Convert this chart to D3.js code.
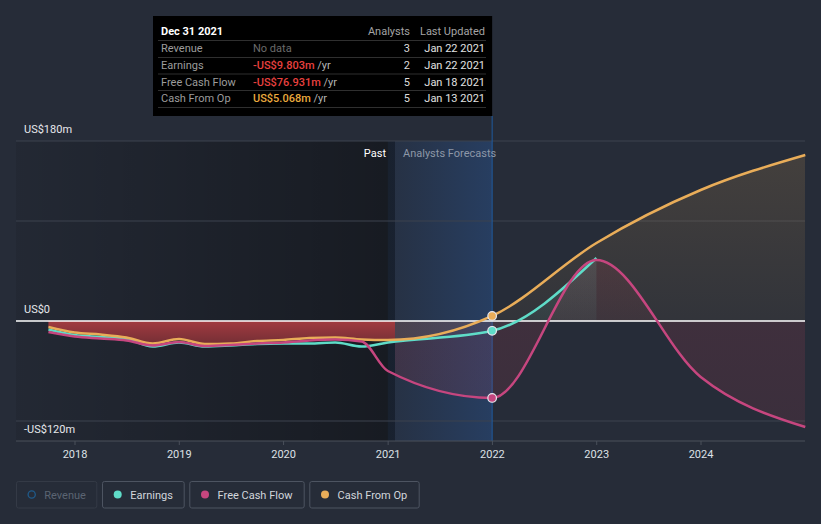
<!DOCTYPE html>
<html>
<head>
<meta charset="utf-8">
<script src="https://cdn.jsdelivr.net/npm/d3@7"></script>
<style>
  html, body { margin: 0; padding: 0; background: #262c38; }
  svg { display: block; font-family: Roboto, "Noto Sans", sans-serif; }
</style>
</head>
<body>
<script>
// ---------------- DATA ----------------
const pastDates = ["2017-09-30","2017-12-31","2018-03-31","2018-06-30","2018-09-30","2018-12-31",
  "2019-03-31","2019-06-30","2019-09-30","2019-12-31","2020-03-31","2020-06-30","2020-09-30","2020-12-31"];
const pastEarnings     = [-8.5, -14, -16, -18, -25.5, -21.5, -25.5, -24.5, -23, -22.5, -22.5, -21.5, -25.5, -21.5];
const pastFreeCashFlow = [-11, -15.5, -17.5, -19.5, -24.5, -21, -25, -24, -22.5, -21.5, -19.5, -18.5, -20.5, -50];
const pastCashFromOp   = [-6, -11.5, -13.5, -16.5, -22.5, -18, -23, -22.5, -20, -19, -17, -16.5, -18.5, -19];

const forecastDates = ["2021-12-31","2022-12-31","2023-12-31","2024-12-31"];
const earningsForecast     = [-9.803, 63];
const freeCashFlowForecast = [-76.931, 61, -56, -106];
const cashFromOpForecast   = [5.068, 78, 131, 166];

const tickYears = [2018, 2019, 2020, 2021, 2022, 2023, 2024];
const yLabels = [{v: 180, t: "US$180m"}, {v: 0, t: "US$0"}, {v: -120, t: "-US$120m"}];
const gridValues = [180, 100, -100];

const legendItems = ["Revenue", "Earnings", "Free Cash Flow", "Cash From Op"];

const tooltipTitle = "Dec 31 2021";
const tooltipRows = [
  {name: "Revenue",        value: "No data",     analysts: "3", updated: "Jan 22 2021"},
  {name: "Earnings",       value: "-US$9.803m",  analysts: "2", updated: "Jan 22 2021"},
  {name: "Free Cash Flow", value: "-US$76.931m", analysts: "5", updated: "Jan 18 2021"},
  {name: "Cash From Op",   value: "US$5.068m",   analysts: "5", updated: "Jan 13 2021"}
];
const nowDate = "2021-01-25";
const hoverStart = "2020-12-31", hoverEnd = "2021-12-31";

// ---------------- SETUP ----------------
const W = 821, H = 524;
const parse = d3.utcParse("%Y-%m-%d");
const x = d3.scaleUtc().domain([Date.UTC(2018,0,1), Date.UTC(2024,0,1)]).range([75, 701]);
const y = d3.scaleLinear().domain([-120, 180]).range([441, 141]);
const X0 = 16, X1 = 805;

const colors = {earn: "#5fdcc8", fcf: "#c6467f", cfo: "#e9ad59", rev: "#1f5a8a"};

const build = (dates, vals) => vals.map((v, i) => ({date: parse(dates[i]), value: v}));
const earnings = build(pastDates, pastEarnings).concat(build(forecastDates, earningsForecast));
const fcf = build(pastDates, pastFreeCashFlow).concat(build(forecastDates, freeCashFlowForecast));
const cfo = build(pastDates, pastCashFromOp).concat(build(forecastDates, cashFromOpForecast));

const svg = d3.select("body").append("svg").attr("width", W).attr("height", H);
const defs = svg.append("defs");

const xNow = x(parse(nowDate));
const xHs = x(parse(hoverStart)), xHe = x(parse(hoverEnd));

// gradients
const gPast = defs.append("linearGradient").attr("id", "gPast")
  .attr("gradientUnits", "userSpaceOnUse").attr("x1", X0).attr("x2", xNow).attr("y1", 0).attr("y2", 0);
gPast.append("stop").attr("offset", 0).attr("stop-color", "#000").attr("stop-opacity", 0.08);
gPast.append("stop").attr("offset", 1).attr("stop-color", "#000").attr("stop-opacity", 0.4);

const gBand = defs.append("linearGradient").attr("id", "gBand")
  .attr("gradientUnits", "userSpaceOnUse").attr("x1", xHs).attr("x2", xHe).attr("y1", 0).attr("y2", 0);
gBand.append("stop").attr("offset", 0).attr("stop-color", "#2a64b8").attr("stop-opacity", 0.08);
gBand.append("stop").attr("offset", 1).attr("stop-color", "#2a64b8").attr("stop-opacity", 0.32);

const gRed = defs.append("linearGradient").attr("id", "gRed")
  .attr("gradientUnits", "userSpaceOnUse").attr("x1", 0).attr("x2", 0).attr("y1", y(0)).attr("y2", y(-25));
gRed.append("stop").attr("offset", 0).attr("stop-color", "#a23b40");
gRed.append("stop").attr("offset", 1).attr("stop-color", "#702d34");

function vGrad(id, color, top, bottom, oTop, oBottom) {
  const g = defs.append("linearGradient").attr("id", id)
    .attr("gradientUnits", "userSpaceOnUse").attr("x1", 0).attr("x2", 0).attr("y1", top).attr("y2", bottom);
  g.append("stop").attr("offset", 0).attr("stop-color", color).attr("stop-opacity", oTop);
  g.append("stop").attr("offset", 1).attr("stop-color", color).attr("stop-opacity", oBottom);
}
vGrad("gCfo", colors.cfo, y(180), y(0), 0.16, 0.06);
vGrad("gEarn", colors.earn, y(80), y(0), 0.16, 0.06);
vGrad("gFcfPos", "#c24157", y(80), y(0), 0.16, 0.08);
vGrad("gFcfNeg", "#c24157", y(0), y(-120), 0.16, 0.13);

defs.append("clipPath").attr("id", "clipPast").append("rect")
  .attr("x", X0).attr("y", 0).attr("width", xNow - X0).attr("height", H);
defs.append("clipPath").attr("id", "clipFc").append("rect")
  .attr("x", xNow).attr("y", 0).attr("width", X1 - xNow).attr("height", H);
defs.append("clipPath").attr("id", "clipPos").append("rect")
  .attr("x", 0).attr("y", 0).attr("width", W).attr("height", y(0));
defs.append("clipPath").attr("id", "clipNeg").append("rect")
  .attr("x", 0).attr("y", y(0)).attr("width", W).attr("height", H - y(0));

// ---------------- BACKGROUND REGIONS ----------------
svg.append("rect").attr("x", X0).attr("y", y(180)).attr("width", xNow - X0).attr("height", y(-120) - y(180))
  .attr("fill", "url(#gPast)");
svg.append("rect").attr("x", xHs).attr("y", y(180)).attr("width", xHe - xHs).attr("height", y(-120) - y(180))
  .attr("fill", "url(#gBand)");

// gridlines
svg.append("g").selectAll("line").data(gridValues).join("line")
  .attr("x1", X0).attr("x2", X1).attr("y1", d => y(d)).attr("y2", d => y(d))
  .attr("stroke", "#3c424e").attr("stroke-width", 1);

// hover line
svg.append("line").attr("x1", xHe).attr("x2", xHe).attr("y1", 116).attr("y2", y(-120))
  .attr("stroke", "#1f5a9e").attr("stroke-width", 1);

// x axis
svg.append("line").attr("x1", X0).attr("x2", X1).attr("y1", y(-120)).attr("y2", y(-120))
  .attr("stroke", "#4a505b").attr("stroke-width", 1);
const tickG = svg.append("g").selectAll("g").data(tickYears).join("g")
  .attr("transform", d => `translate(${x(Date.UTC(d,0,1))},0)`);
tickG.append("line").attr("y1", y(-120)).attr("y2", y(-120) + 4).attr("stroke", "#4a505b");
tickG.append("text").attr("y", 458).attr("text-anchor", "middle").attr("font-size", 11)
  .attr("fill", "#dde1e6").text(d => d);

// ---------------- FILLS ----------------
const areaGen = d3.area().x(d => x(d.date)).y0(y(0)).y1(d => y(d.value)).curve(d3.curveMonotoneX);
const lineGen = d3.line().x(d => x(d.date)).y(d => y(d.value)).curve(d3.curveMonotoneX);

// past red fill
svg.append("path").attr("d", areaGen(cfo)).attr("fill", "url(#gRed)").attr("clip-path", "url(#clipPast)");

// forecast fills
const fc = svg.append("g").attr("clip-path", "url(#clipFc)");
fc.append("g").attr("clip-path", "url(#clipPos)").append("path").attr("d", areaGen(cfo)).attr("fill", "url(#gCfo)");
fc.append("g").attr("clip-path", "url(#clipPos)").append("path").attr("d", areaGen(earnings)).attr("fill", "url(#gEarn)");
fc.append("g").attr("clip-path", "url(#clipNeg)").append("path").attr("d", areaGen(earnings)).attr("fill", colors.earn).attr("fill-opacity", 0.06);
fc.append("g").attr("clip-path", "url(#clipPos)").append("path").attr("d", areaGen(fcf)).attr("fill", "url(#gFcfPos)");
fc.append("g").attr("clip-path", "url(#clipNeg)").append("path").attr("d", areaGen(fcf)).attr("fill", "url(#gFcfNeg)");
fc.append("g").attr("clip-path", "url(#clipNeg)").append("path").attr("d", areaGen(cfo)).attr("fill", colors.cfo).attr("fill-opacity", 0.05);

// zero line
svg.append("line").attr("x1", X0).attr("x2", X1).attr("y1", y(0)).attr("y2", y(0))
  .attr("stroke", "#ffffff").attr("stroke-width", 1.5);

// ---------------- LINES ----------------
svg.append("path").attr("d", lineGen(earnings)).attr("fill", "none").attr("stroke", colors.earn).attr("stroke-width", 2.5);
svg.append("path").attr("d", lineGen(cfo)).attr("fill", "none").attr("stroke", colors.cfo).attr("stroke-width", 2.5);
svg.append("path").attr("d", lineGen(fcf)).attr("fill", "none").attr("stroke", colors.fcf).attr("stroke-width", 2.5);

// highlight dots
const hi = parse(hoverEnd);
[[earnings, colors.earn], [fcf, colors.fcf], [cfo, colors.cfo]].forEach(([s, c]) => {
  const p = s.find(d => +d.date === +hi);
  svg.append("circle").attr("cx", x(p.date)).attr("cy", y(p.value)).attr("r", 4.3)
    .attr("fill", c).attr("stroke", "#e8e8ee").attr("stroke-width", 1.2);
});

// y labels
svg.append("g").selectAll("text").data(yLabels).join("text")
  .attr("x", 24).attr("y", d => y(d.v) - 8).attr("font-size", 11).attr("fill", "#e6e8ec").text(d => d.t);

// Past / Analysts Forecasts
svg.append("text").attr("x", 386).attr("y", 157).attr("text-anchor", "end").attr("font-size", 11)
  .attr("fill", "#ffffff").text("Past");
svg.append("text").attr("x", 403).attr("y", 157).attr("font-size", 11)
  .attr("fill", "#8d97a7").text("Analysts Forecasts");

// ---------------- TOOLTIP ----------------
const tt = svg.append("g");
tt.append("rect").attr("x", 153).attr("y", 16).attr("width", xHe - 153).attr("height", 100).attr("fill", "#000");
tt.append("text").attr("x", 161).attr("y", 35).attr("font-size", 11).attr("font-weight", "bold")
  .attr("fill", "#fff").text(tooltipTitle);
tt.append("text").attr("x", 410).attr("y", 35).attr("text-anchor", "end").attr("font-size", 11)
  .attr("fill", "#a4a4a4").text("Analysts");
tt.append("text").attr("x", 485).attr("y", 35).attr("text-anchor", "end").attr("font-size", 11)
  .attr("fill", "#a4a4a4").text("Last Updated");
const sepY = [40.5, 57.5, 74, 90.5, 107.5];
tt.selectAll("line.sep").data(sepY).join("line").attr("class", "sep")
  .attr("x1", 158).attr("x2", 486).attr("y1", d => d).attr("y2", d => d)
  .attr("stroke", "#2f2f2f").attr("stroke-width", 1);
const rowY = [52, 69, 85.5, 102];
const valColors = ["#6b6b6b", "#e8403f", "#e8403f", "#eaaa3e"];
tooltipRows.forEach((r, i) => {
  tt.append("text").attr("x", 161).attr("y", rowY[i]).attr("font-size", 11).attr("fill", "#9c9c9c").text(r.name);
  const v = tt.append("text").attr("x", 253).attr("y", rowY[i]).attr("font-size", 11);
  if (r.value === "No data") {
    v.attr("fill", valColors[i]).text(r.value);
  } else {
    v.append("tspan").attr("fill", valColors[i]).attr("font-weight", 500).text(r.value);
    v.append("tspan").attr("fill", "#b4b4b4").text(" /yr");
  }
  tt.append("text").attr("x", 410).attr("y", rowY[i]).attr("text-anchor", "end").attr("font-size", 11)
    .attr("fill", "#dcdcdc").text(r.analysts);
  tt.append("text").attr("x", 485).attr("y", rowY[i]).attr("text-anchor", "end").attr("font-size", 11)
    .attr("fill", "#e2e2e2").text(r.updated);
});

// ---------------- LEGEND ----------------
const legBoxes = [[16, 97.3], [102, 184.7], [189.3, 304.7], [309.3, 419.7]];
const legColors = [colors.rev, colors.earn, colors.fcf, colors.cfo];
legendItems.forEach((name, i) => {
  const [a, b] = legBoxes[i];
  const g = svg.append("g");
  g.append("rect").attr("x", a + 0.5).attr("y", 481.5).attr("width", b - a - 1).attr("height", 26.5).attr("rx", 2)
    .attr("fill", "none").attr("stroke", i === 0 ? "#343a46" : "#4d5461").attr("stroke-width", 1);
  if (i === 0) {
    g.append("circle").attr("cx", a + 15.7).attr("cy", 494.5).attr("r", 3.6)
      .attr("fill", "none").attr("stroke", legColors[i]).attr("stroke-width", 1.3);
  } else {
    g.append("circle").attr("cx", a + 15.7).attr("cy", 494.5).attr("r", 4)
      .attr("fill", legColors[i]);
  }
  g.append("text").attr("x", a + 28.3).attr("y", 498.5).attr("font-size", 11)
    .attr("fill", i === 0 ? "#5b6472" : "#d2d6dc").text(name);
});
</script>
</body>
</html>
